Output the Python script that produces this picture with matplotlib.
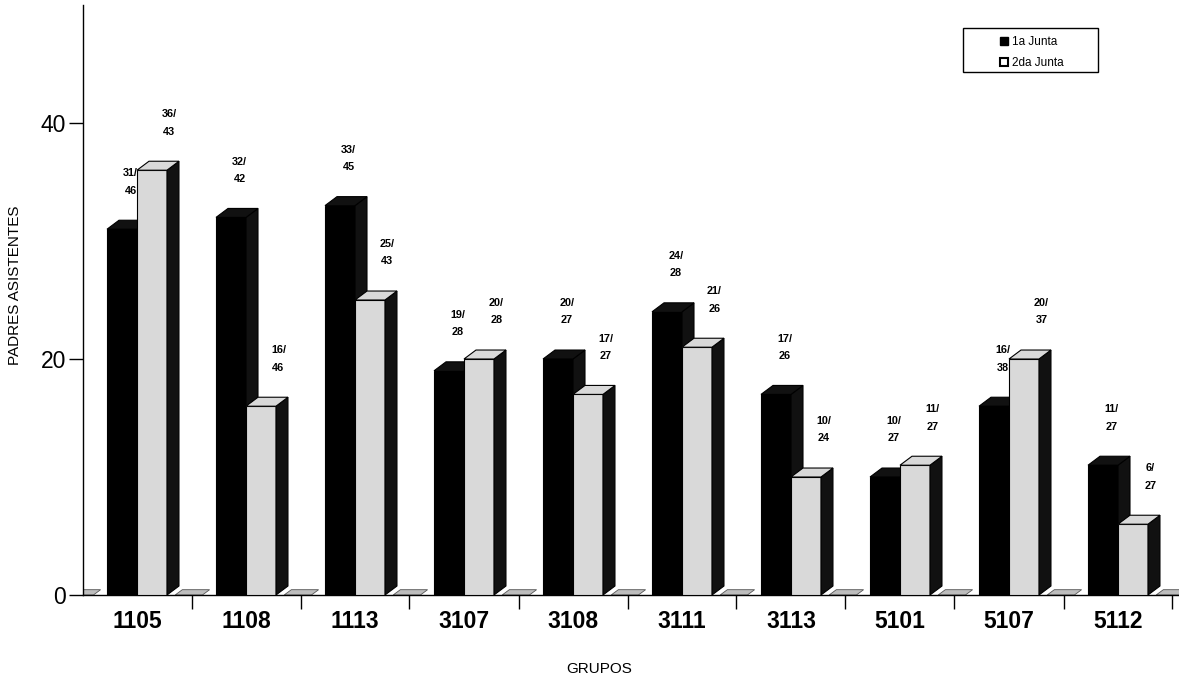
import numpy as np
import matplotlib
matplotlib.use("Agg")
import matplotlib.pyplot as plt
from matplotlib.patches import Polygon, Rectangle, Patch

plt.rcParams["font.family"] = ["Liberation Sans", "DejaVu Sans"]

grupos = ["1105", "1108", "1113", "3107", "3108", "3111", "3113", "5101", "5107", "5112"]
junta1 = [31, 32, 33, 19, 20, 24, 17, 10, 16, 11]
junta2 = [36, 16, 25, 20, 17, 21, 10, 11, 20, 6]
total1 = [46, 42, 45, 28, 27, 28, 26, 27, 38, 27]
total2 = [43, 46, 43, 28, 27, 26, 24, 27, 37, 27]

W = 0.275      # bar width (category units)
DX = 0.11      # 3d depth, x
DY = 0.76      # 3d depth, y
GRAY = "#d9d9d9"


def bar3d(ax, x0, h, face):
    x1 = x0 + W
    ax.bar(x0, h, W, align="edge", color=face, edgecolor="black", lw=0.8, zorder=3)
    top = Polygon([(x0, h), (x1, h), (x1 + DX, h + DY), (x0 + DX, h + DY)],
                  closed=True, fc=face if face != "black" else "#111111",
                  ec="black", lw=0.8, zorder=3)
    side = Polygon([(x1, 0), (x1 + DX, DY), (x1 + DX, h + DY), (x1, h)],
                   closed=True, fc="#111111", ec="black", lw=0.8, zorder=3)
    ax.add_patch(side)
    ax.add_patch(top)


fig = plt.figure(figsize=(11.79, 6.82), dpi=100)
ax = fig.add_axes([82.5 / 1179, 87 / 682, 1 - 82.5 / 1179, 590 / 682])

x = np.arange(len(grupos))

# flat "floor" pieces between groups
for t in np.arange(len(grupos) + 1) - 0.5:
    ax.add_patch(Polygon([(t - 0.15, 0), (t + 0.1, 0), (t + 0.1 + DX * 0.6, 0.45),
                          (t - 0.15 + DX * 0.6, 0.45)], closed=True,
                         fc="#bdbdbd", ec="#555555", lw=0.6, zorder=2))

for i in range(len(grupos)):
    bar3d(ax, x[i] - W, junta1[i], "black")
    bar3d(ax, x[i], junta2[i], GRAY)

for i in range(len(grupos)):
    ax.text(x[i] - W / 2 + 0.08, junta1[i] + 4.0, f"{junta1[i]}/\n{total1[i]}",
            ha="center", va="center", fontsize=7.8, fontweight="bold",
            linespacing=1.9, zorder=2)
    ax.text(x[i] + W / 2 + 0.16, junta2[i] + 4.0, f"{junta2[i]}/\n{total2[i]}",
            ha="center", va="center", fontsize=7.8, fontweight="bold",
            linespacing=1.9, zorder=2)

ax.set_xlim(-0.5, (1179 - 82.5) / 109 - 0.5)
ax.set_ylim(0, 50)
ax.set_yticks([0, 20, 40])
ax.set_yticklabels(["0", "20", "40"], fontsize=16.5)
ax.set_xticks(x)
ax.set_xticklabels(grupos, fontsize=16.5, fontweight="bold")
ax.set_xticks(np.arange(len(grupos)) + 0.5, minor=True)
ax.tick_params(axis="x", which="major", length=0, pad=11)
ax.tick_params(axis="x", which="minor", length=10, width=1, direction="out")
ax.tick_params(axis="y", length=10, width=1, direction="out", pad=2)
for s in ["top", "right"]:
    ax.spines[s].set_visible(False)
ax.spines["left"].set_linewidth(1)
ax.spines["bottom"].set_linewidth(1)

fig.text(15 / 1179, 1 - 285 / 682, "PADRES ASISTENTES", rotation=90,
         ha="center", va="center", fontsize=11)
fig.text(599 / 1179, 1 - 669 / 682, "GRUPOS", ha="center", va="center", fontsize=11)

# legend
ax.add_patch(Rectangle((0.803, 0.886), 0.926 - 0.803, 0.961 - 0.886,
                       transform=ax.transAxes, fc="white", ec="black", lw=1, zorder=5))
handles = [Patch(fc="black", ec="black", label="1a Junta"),
           Patch(fc="white", ec="black", lw=1.5, label="2da Junta")]
leg = ax.legend(handles=handles, loc="upper left", bbox_to_anchor=(0.831, 0.957),
                frameon=False, fontsize=8.5, borderpad=0, handlelength=0.75,
                handleheight=0.75, handletextpad=0.3, labelspacing=0.75)
leg.set_zorder(6)

fig.savefig("out.png", dpi=100)
